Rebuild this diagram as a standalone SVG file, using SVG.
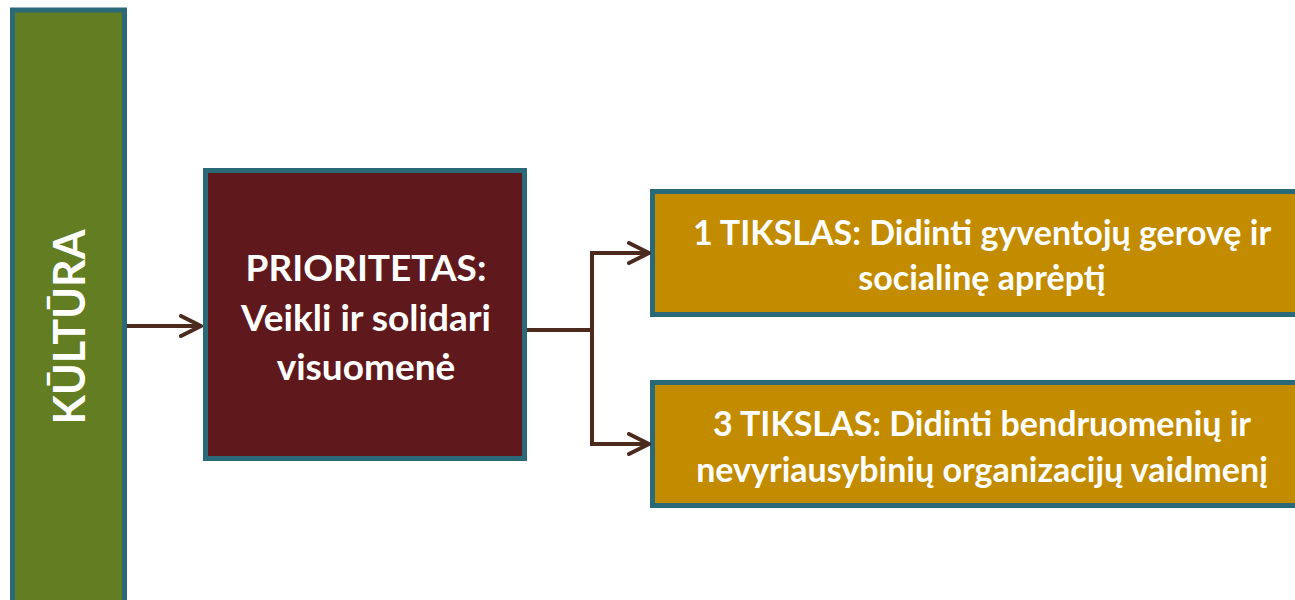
<svg xmlns="http://www.w3.org/2000/svg" width="1295" height="600" viewBox="0 0 1295 600">
<style>
.box{stroke:#2a6a78;stroke-width:5}
.t{font-family:Lato,"Open Sans",sans-serif;font-weight:bold;fill:#ffffff;text-anchor:middle}
.c{fill:none;stroke:#4c2a1e;stroke-width:4}
</style>
<defs>
<marker id="ah" viewBox="0 0 12 12" refX="11" refY="6" markerWidth="6" markerHeight="6" orient="auto" markerUnits="strokeWidth">
<path d="M1,1 L11,6 L1,11" fill="none" stroke="#4c2a1e" stroke-width="2" stroke-linecap="round" stroke-linejoin="round"/>
</marker>
</defs>
<rect width="1295" height="600" fill="#ffffff"/>
<g id="kultura">
<rect class="box" x="12.5" y="10" width="112" height="600" fill="#637d23"/>
<text class="t" font-size="43" transform="translate(85,327) rotate(-90)">KŪLTŪRA</text>
</g>
<g id="prioritetas">
<rect class="box" x="205.5" y="170.5" width="319" height="288" fill="#5f191c"/>
<text class="t" font-size="37" x="366" y="281">PRIORITETAS:</text>
<text class="t" font-size="37" x="366" y="331">Veikli ir solidari</text>
<text class="t" font-size="37" x="366" y="380">visuomenė</text>
</g>
<g id="tikslas1">
<rect class="box" x="652.5" y="191.5" width="650" height="123" fill="#c38c00"/>
<text class="t" font-size="34" x="982" y="245">1 TIKSLAS: Didinti gyventojų gerovę ir</text>
<text class="t" font-size="34" x="982" y="290">socialinę aprėptį</text>
</g>
<g id="tikslas3">
<rect class="box" x="652.5" y="382.5" width="650" height="123" fill="#c38c00"/>
<text class="t" font-size="34" x="982" y="436">3 TIKSLAS: Didinti bendruomenių ir</text>
<text class="t" font-size="34" x="982" y="482">nevyriausybinių organizacijų vaidmenį</text>
</g>
<g id="connectors">
<path class="c" d="M127,326 L201,326" marker-end="url(#ah)"/>
<path class="c" d="M527,330 L592,330 M592,253 L592,444"/>
<path class="c" d="M590,253 L649,253" marker-end="url(#ah)"/>
<path class="c" d="M590,444 L649,444" marker-end="url(#ah)"/>
</g>
</svg>
